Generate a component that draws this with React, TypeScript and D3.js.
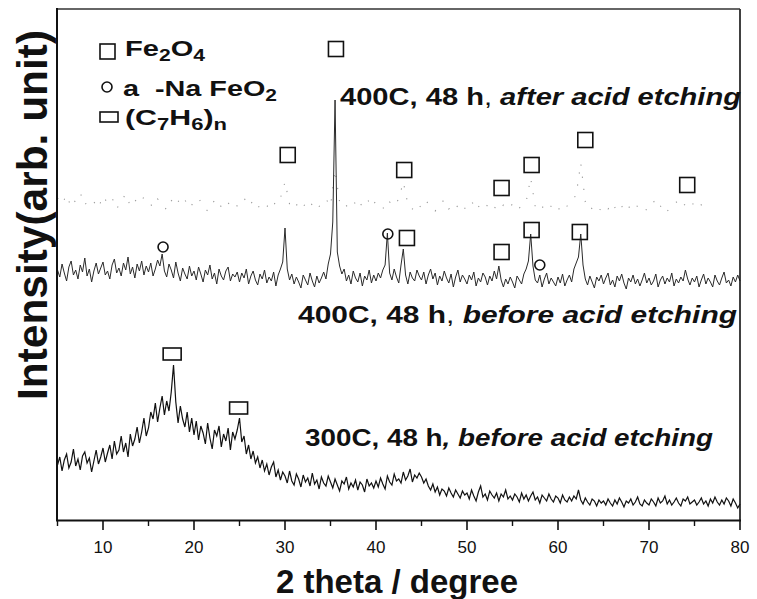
import React from 'react';
import * as d3 from 'd3';

// 2θ grid for the two solid traces: start 5°, step 0.25°
const TRACE_START = 5;
const TRACE_STEP = 0.25;

// 300C, 48 h, before acid etching (bottom trace)
const TRACE_300C_BEFORE = [
  55, 63, 49, 60, 66, 52, 58, 71, 54, 61, 50, 64, 68, 57, 62, 48, 59, 70, 56, 63,
  72, 58, 67, 75, 61, 79, 66, 70, 84, 68, 77, 63, 86, 74, 81, 93, 77, 88, 102, 84,
  92, 108, 101, 117, 98, 112, 124, 105, 119, 109, 128, 155, 118, 97, 114, 101, 93, 108, 88, 102,
  85, 99, 80, 94, 87, 76, 97, 82, 71, 90, 84, 94, 73, 86, 79, 92, 70, 88, 81, 90,
  102, 78, 84, 66, 75, 61, 69, 57, 63, 52, 60, 49, 56, 45, 53, 58, 43, 50, 40, 48,
  44, 37, 49, 39, 35, 46, 41, 33, 45, 38, 42, 34, 47, 36, 40, 31, 43, 37, 34, 44,
  38, 32, 41, 35, 29, 39, 36, 43, 31, 37, 33, 40, 30, 38, 35, 28, 41, 34, 37, 32,
  39, 33, 42, 36, 31, 44, 38, 35, 46, 39, 41, 37, 48, 40, 44, 51, 38, 45, 42, 47,
  43, 37, 41, 34, 30, 36, 28, 33, 25, 31, 29, 24, 32, 27, 23, 30, 26, 22, 29, 25,
  27, 21, 30, 24, 19, 28, 34, 23, 26, 20, 29, 25, 22, 27, 19, 26, 23, 30, 21, 24,
  20, 26, 23, 18, 27, 21, 25, 19, 24, 28, 20, 23, 17, 25, 22, 19, 26, 21, 18, 24,
  22, 17, 25, 20, 18, 23, 19, 24, 21, 30, 20, 16, 22, 18, 15, 21, 19, 14, 20, 17,
  19, 15, 21, 17, 14, 20, 16, 22, 18, 13, 19, 17, 21, 15, 18, 23, 16, 14, 20, 17,
  15, 21, 18, 14, 22, 17, 19, 24, 16, 20, 15, 18, 22, 17, 14, 21, 19, 23, 16, 18,
  20, 15, 18, 22, 16, 19, 14, 21, 17, 23, 18, 15, 20, 16, 22, 19, 14, 21, 17, 12,
  16,
];

// 400C, 48 h, before acid etching (middle trace)
const TRACE_400C_BEFORE = [
  250, 243, 256, 247, 239, 253, 259, 245, 250, 241, 255, 248, 262, 244, 251, 238, 249, 257, 246, 252,
  258, 245, 249, 241, 255, 261, 247, 252, 244, 257, 250, 263, 246, 253, 242, 256, 249, 259, 245, 254,
  248, 257, 244, 251, 260, 254, 266, 249, 243, 256, 250, 242, 258, 247, 239, 252, 246, 241, 254, 244,
  249, 240, 253, 246, 238, 250, 245, 255, 241, 247, 236, 251, 244, 240, 249, 253, 239, 246, 243, 248,
  238, 247, 242, 251, 236, 244, 249, 240, 235, 246, 241, 250, 237, 243, 239, 248, 234, 245, 251, 258,
  292, 251, 240, 246, 236, 243, 238, 232, 245, 240, 235, 247, 239, 233, 244, 237, 242, 248, 241, 256,
  266, 298, 420, 268, 254, 246, 251, 239, 245, 236, 249, 242, 238, 247, 234, 244, 240, 250, 237, 245,
  239, 247, 242, 250, 255, 287, 247, 240, 251, 243, 237, 255, 271, 245, 236, 248, 242, 239, 250, 244,
  240, 248, 236, 245, 251, 241, 247, 235, 244, 239, 249, 242, 237, 246, 233, 243, 250, 238, 245, 241,
  236, 245, 240, 248, 234, 242, 238, 247, 243, 235, 244, 239, 249, 241, 254, 240, 233, 241, 236, 243,
  238, 232, 244, 240, 236, 246, 251, 259, 286, 254, 240, 237, 245, 233, 241, 247, 236, 242, 238, 234,
  243, 237, 246, 234, 240, 245, 238, 251, 257, 263, 286, 255, 241, 235, 244, 238, 232, 243, 239, 245,
  236, 242, 247, 235, 240, 233, 244, 239, 246, 237, 231, 242, 238, 245, 236, 241, 234, 240, 247, 237,
  242, 235, 239, 246, 233, 240, 244, 236, 242, 238, 247, 234, 241, 237, 243, 239, 250, 241, 235, 242,
  238, 244, 233, 240, 246, 236, 242, 238, 233, 245, 239, 235, 242, 248, 237, 240, 234, 243, 238, 245,
  239,
];

// 400C, 48 h, after acid etching (faint dotted trace): start 5°, step 0.5°
const AFTER_STEP = 0.5;
const TRACE_400C_AFTER = [
  322, 316, 325, 313, 320, 327, 315, 321, 318, 312, 324, 317, 322, 311, 319, 326, 314, 320, 316, 323,
  318, 313, 321, 316, 310, 319, 324, 315, 320, 312, 318, 322, 314, 309, 317, 321, 313, 319, 315, 311,
  318, 322, 314, 319, 312, 317, 313, 320, 315, 322, 338, 316, 311, 318, 313, 320, 315, 310, 317, 321,
  314, 350, 318, 312, 316, 320, 311, 317, 322, 313, 319, 315, 310, 318, 314, 321, 338, 316, 311, 317,
  312, 319, 314, 309, 316, 320, 311, 317, 313, 308, 315, 319, 310, 316, 312, 318, 313, 309, 315, 311,
  316, 310, 314, 318, 342, 313, 309, 315, 311, 317, 312, 308, 314, 319, 325, 357, 318, 310, 314, 309,
  315, 311, 317, 308, 313, 318, 310, 315, 312, 308, 314, 319, 311, 316, 309, 313, 318, 312, 316, 320,
  314, 318, 312,
];

const X_MAJOR_TICKS = [10, 20, 30, 40, 50, 60, 70, 80];
const X_MINOR_TICKS = [5, 15, 25, 35, 45, 55, 65, 75];

// phase markers: [2θ, intensity]
const FE2O4_MARKS = [
  [35.6, 471], [30.3, 365], [43.1, 350], [53.8, 332], [57.1, 355], [63.0, 380], [74.2, 335],
  [43.4, 282], [53.8, 268], [57.1, 290], [62.4, 288],
];
const NAFEO2_MARKS = [[16.6, 273], [41.3, 286], [58.0, 255]];
const C7H6_MARKS = [[17.6, 166], [24.9, 112]];

const FONT = "'Liberation Sans', Arial, Helvetica, sans-serif";

export default function App() {
  const x = d3.scaleLinear().domain([5, 80]).range([57.5, 740]);
  const y = d3.scaleLinear().domain([0, 510]).range([520, 10]);

  const solidLine = d3
    .line<number>()
    .x((_, i) => x(TRACE_START + i * TRACE_STEP))
    .y((d) => y(d));
  const afterLine = d3
    .line<number>()
    .x((_, i) => x(TRACE_START + i * AFTER_STEP))
    .y((d) => y(d));

  const sq = 15;
  return (
    <svg
      width={757}
      height={599}
      style={{ position: 'absolute', left: 0, top: 0, background: '#fff' }}
      fontFamily={FONT}
    >
      <rect x={0} y={0} width={757} height={599} fill="#fff" />
      {/* traces */}
      <path d={afterLine(TRACE_400C_AFTER) || ''} fill="none" stroke="#999" strokeWidth={1.1} strokeDasharray="1.2 11" />
      <path d={solidLine(TRACE_400C_BEFORE) || ''} fill="none" stroke="#2a2a2a" strokeWidth={1} />
      <path d={solidLine(TRACE_300C_BEFORE) || ''} fill="none" stroke="#111" strokeWidth={1.2} />

      {/* markers */}
      {FE2O4_MARKS.map(([t, v], i) => (
        <rect key={'s' + i} x={x(t) - sq / 2} y={y(v) - sq / 2} width={sq} height={sq} fill="none" stroke="#111" strokeWidth={1.6} />
      ))}
      {NAFEO2_MARKS.map(([t, v], i) => (
        <circle key={'c' + i} cx={x(t)} cy={y(v)} r={5} fill="none" stroke="#111" strokeWidth={1.6} />
      ))}
      {C7H6_MARKS.map(([t, v], i) => (
        <rect key={'r' + i} x={x(t) - 9} y={y(v) - 6} width={18} height={12} fill="none" stroke="#111" strokeWidth={1.6} />
      ))}

      {/* frame */}
      <line x1={740} y1={9} x2={740} y2={521} stroke="#111" strokeWidth={1.6} />
      <line x1={57} y1={9} x2={740} y2={9} stroke="#333" strokeWidth={1.4} />
      <line x1={57} y1={8} x2={57} y2={521} stroke="#111" strokeWidth={2} />
      <line x1={56} y1={520.5} x2={741} y2={520.5} stroke="#111" strokeWidth={2} />

      {/* ticks */}
      {X_MAJOR_TICKS.map((t) => (
        <g key={'M' + t}>
          <line x1={x(t)} x2={x(t)} y1={520} y2={530} stroke="#111" strokeWidth={1.6} />
          <text x={x(t)} y={553} textAnchor="middle" fontSize={17} fill="#111">{t}</text>
        </g>
      ))}
      {X_MINOR_TICKS.map((t) => (
        <line key={'m' + t} x1={x(t)} x2={x(t)} y1={520} y2={526} stroke="#111" strokeWidth={1.4} />
      ))}

      {/* axis titles */}
      <text x={397} y={593} textAnchor="middle" fontSize={33} fontWeight="bold" fill="#111">2 theta / degree</text>
      <text
        transform="translate(47,215) rotate(-90)"
        textAnchor="middle"
        fontSize={42}
        fontWeight="bold"
        fill="#111"
        textLength={370}
        lengthAdjust="spacingAndGlyphs"
      >
        Intensity(arb. unit)
      </text>

      {/* trace labels */}
      <text x={340} y={105} fontSize={24} fontWeight="bold" fill="#111" textLength={401} lengthAdjust="spacingAndGlyphs" style={{ whiteSpace: 'pre' }}>
        <tspan>400C, 48 h</tspan>
        <tspan fontWeight="normal">, </tspan>
        <tspan fontStyle="italic">after acid etching</tspan>
      </text>
      <text x={298} y={323} fontSize={24} fontWeight="bold" fill="#111" textLength={439} lengthAdjust="spacingAndGlyphs" style={{ whiteSpace: 'pre' }}>
        <tspan>400C, 48 h</tspan>
        <tspan fontWeight="normal">, </tspan>
        <tspan fontStyle="italic">before acid etching</tspan>
      </text>
      <text x={305} y={446} fontSize={24} fontWeight="bold" fill="#111" textLength={408} lengthAdjust="spacingAndGlyphs" style={{ whiteSpace: 'pre' }}>
        <tspan>300C, 48 h</tspan>
        <tspan fontStyle="italic">, before acid etching</tspan>
      </text>

      {/* legend */}
      <rect x={100} y={44} width={15} height={15} fill="none" stroke="#111" strokeWidth={1.6} />
      <text x={125} y={56} fontSize={22} fontWeight="bold" fill="#111" textLength={80} lengthAdjust="spacingAndGlyphs">
        <tspan>Fe</tspan>
        <tspan fontSize={16} dy={5}>2</tspan>
        <tspan dy={-5}>O</tspan>
        <tspan fontSize={16} dy={5}>4</tspan>
      </text>
      <circle cx={107} cy={87} r={5} fill="none" stroke="#111" strokeWidth={1.6} />
      <text x={123} y={96} fontSize={22} fontWeight="bold" fill="#111" textLength={154} lengthAdjust="spacingAndGlyphs" style={{ whiteSpace: 'pre' }}>
        <tspan>a  -Na FeO</tspan>
        <tspan fontSize={16} dy={5}>2</tspan>
      </text>
      <rect x={100} y={112} width={18} height={10} fill="none" stroke="#111" strokeWidth={1.6} />
      <text x={125} y={125} fontSize={22} fontWeight="bold" fill="#111" textLength={102} lengthAdjust="spacingAndGlyphs">
        <tspan>(C</tspan>
        <tspan fontSize={16} dy={5}>7</tspan>
        <tspan dy={-5}>H</tspan>
        <tspan fontSize={16} dy={5}>6</tspan>
        <tspan dy={-5}>)</tspan>
        <tspan fontSize={16} dy={5}>n</tspan>
      </text>
    </svg>
  );
}
